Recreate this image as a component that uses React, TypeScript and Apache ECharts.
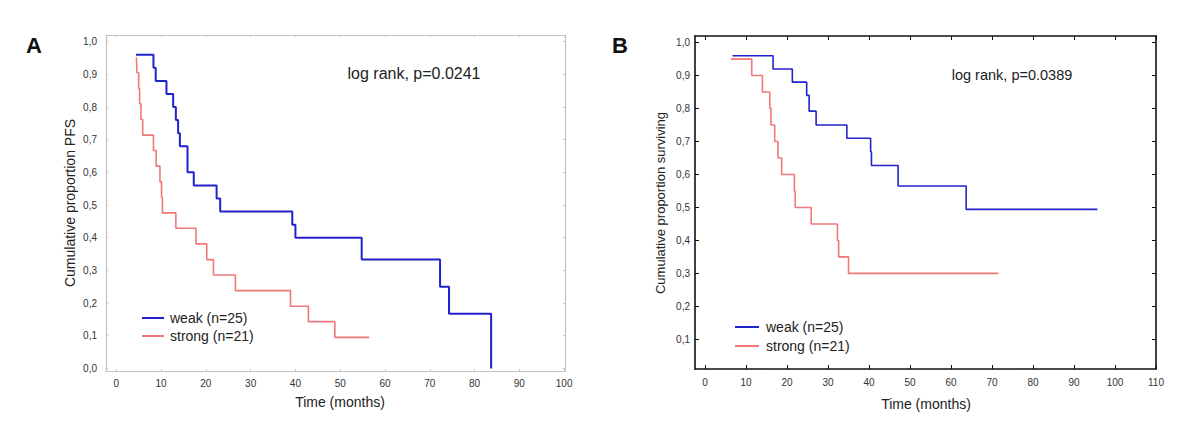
import React, { useEffect, useRef } from "react";
import * as echarts from "echarts";

// Panel A: progression-free survival
const weakA_t = [4.4, 8.3, 8.8, 11.2, 12.7, 13.3, 13.8, 14.2, 15.9, 17.3, 22.4, 23.2, 39.3, 40.0, 54.8, 72.3, 74.3, 83.7];
const weakA_s = [0.96, 0.92, 0.88, 0.84, 0.80, 0.76, 0.72, 0.68, 0.60, 0.56, 0.52, 0.48, 0.44, 0.40, 0.333, 0.25, 0.167, 0.0];
const strongA_t = [4.5, 4.6, 5.0, 5.2, 5.5, 5.9, 8.3, 8.9, 9.75, 10.1, 10.3, 13.3, 17.8, 20.2, 21.7, 26.6, 38.9, 42.9, 48.8, 56.5];
const strongA_s = [0.952, 0.905, 0.857, 0.81, 0.762, 0.714, 0.667, 0.619, 0.571, 0.524, 0.476, 0.429, 0.381, 0.333, 0.286, 0.238, 0.19, 0.143, 0.095, 0.095];

// Panel B: overall survival
const weakB_t = [6.7, 16.6, 21.3, 24.8, 25.4, 27.1, 34.6, 40.4, 40.6, 47.1, 63.7, 95.7];
const weakB_s = [0.96, 0.92, 0.88, 0.84, 0.792, 0.75, 0.71, 0.669, 0.627, 0.565, 0.494, 0.494];
const strongB_t = [6.3, 11.4, 14.0, 15.8, 16.1, 17.0, 17.8, 18.7, 21.8, 22.0, 25.9, 32.3, 32.6, 35.0, 71.6];
const strongB_s = [0.95, 0.9, 0.85, 0.8, 0.75, 0.7, 0.65, 0.6, 0.55, 0.5, 0.45, 0.4, 0.35, 0.3, 0.3];

const xTicksA = [0, 10, 20, 30, 40, 50, 60, 70, 80, 90, 100];
const xTicksB = [0, 10, 20, 30, 40, 50, 60, 70, 80, 90, 100, 110];
const yTicksA = [0, 1, 2, 3, 4, 5, 6, 7, 8, 9, 10].map((i) => i / 10);
const yTicksB = [1, 2, 3, 4, 5, 6, 7, 8, 9, 10].map((i) => i / 10);

const weakName = "weak (n=25)";
const strongName = "strong (n=21)";
const pA = "log rank, p=0.0241";
const pB = "log rank, p=0.0389";

const BLUE = "#2222cc";
const RED = "#f07878";
const FONT = "Liberation Sans, Arial, sans-serif";

const zip = (t: number[], s: number[]) => t.map((x, i) => [x, s[i]]);
const fmtY = (v: number) => v.toFixed(1).replace(".", ",");

export default function App() {
  const ref = useRef<HTMLDivElement>(null);
  useEffect(() => {
    if (!ref.current) return;
    const chart = echarts.init(ref.current, null, { renderer: "svg" });
    const frameA = "#c4c4c4";
    const frameB = "#111";
    const labelStyle = { color: "#333", fontSize: 10, fontFamily: FONT };

    const xAxisCommon = (gi: number, min: number, max: number, ticks: number[], color: string, pos: string, showLabel: boolean, margin: number) => ({
      type: "value",
      gridIndex: gi,
      min,
      max,
      position: pos,
      splitLine: { show: false },
      axisLine: { show: true, onZero: false, lineStyle: { color, width: gi === 0 ? 1.2 : 1.6 } },
      axisTick: { show: true, inside: true, length: gi === 0 ? 2 : 4, customValues: ticks, lineStyle: { color } },
      axisLabel: { show: showLabel, customValues: ticks, margin, ...labelStyle },
    });
    const yAxisCommon = (gi: number, min: number, max: number, ticks: number[], color: string, pos: string, showLabel: boolean, margin: number) => ({
      type: "value",
      gridIndex: gi,
      min,
      max,
      position: pos,
      splitLine: { show: false },
      axisLine: { show: true, onZero: false, lineStyle: { color, width: gi === 0 ? 1.2 : 1.6 } },
      axisTick: { show: true, inside: true, length: gi === 0 ? 2 : 4, customValues: ticks, lineStyle: { color } },
      axisLabel: { show: showLabel, customValues: ticks, margin, formatter: fmtY, ...labelStyle },
    });

    const line = (name: string, xi: number, yi: number, data: number[][], color: string, width: number) => ({
      type: "line",
      name,
      xAxisIndex: xi,
      yAxisIndex: yi,
      data,
      step: "end",
      symbol: "none",
      lineStyle: { color, width },
      itemStyle: { color },
      z: 5,
    });

    chart.setOption({
      animation: false,
      textStyle: { fontFamily: FONT },
      grid: [
        { left: 106, top: 35, width: 459, height: 336 },
        { left: 695, top: 36, width: 461, height: 333 },
      ],
      xAxis: [
        xAxisCommon(0, -2.3, 100.2, xTicksA, frameA, "bottom", true, 7),
        xAxisCommon(0, -2.3, 100.2, xTicksA, frameA, "top", false, 7),
        xAxisCommon(1, -2.44, 110, xTicksB, frameB, "bottom", true, 8),
        xAxisCommon(1, -2.44, 110, xTicksB, frameB, "top", false, 8),
      ],
      yAxis: [
        yAxisCommon(0, -0.008, 1.0205, yTicksA, frameA, "left", true, 9),
        yAxisCommon(0, -0.008, 1.0205, yTicksA, frameA, "right", false, 9),
        yAxisCommon(1, 0.01, 1.02, yTicksB, frameB, "left", true, 5),
        yAxisCommon(1, 0.01, 1.02, yTicksB, frameB, "right", false, 5),
      ],
      legend: [
        {
          left: 137,
          top: 306,
          orient: "vertical",
          data: [weakName, strongName],
          icon: "rect",
          itemWidth: 22,
          itemHeight: 2,
          itemGap: 4,
          selectedMode: false,
          textStyle: { fontSize: 14, color: "#222", fontFamily: FONT, padding: [0, 0, 0, 1] },
        },
        {
          left: 730,
          top: 315,
          orient: "vertical",
          data: [weakName, strongName],
          icon: "rect",
          itemWidth: 24,
          itemHeight: 2,
          itemGap: 5,
          selectedMode: false,
          textStyle: { fontSize: 14, color: "#222", fontFamily: FONT, padding: [0, 0, 0, 2] },
        },
      ],
      series: [
        line(weakName, 0, 0, zip(weakA_t, weakA_s), BLUE, 2),
        line(strongName, 0, 0, zip(strongA_t, strongA_s), RED, 1.6),
        line(weakName, 2, 2, zip(weakB_t, weakB_s), BLUE, 1.6),
        line(strongName, 2, 2, zip(strongB_t, strongB_s), RED, 1.6),
      ],
      graphic: [
        { type: "text", left: 26, top: 34, style: { text: "A", font: `bold 22px ${FONT}`, fill: "#111" } },
        { type: "text", left: 612, top: 34, style: { text: "B", font: `bold 22px ${FONT}`, fill: "#111" } },
        { type: "text", x: 414, y: 73, style: { text: pA, font: `16px ${FONT}`, fill: "#222", align: "center", verticalAlign: "middle" } },
        { type: "text", x: 1012, y: 75, style: { text: pB, font: `14.5px ${FONT}`, fill: "#222", align: "center", verticalAlign: "middle" } },
        { type: "text", x: 340, y: 402, style: { text: "Time (months)", font: `14px ${FONT}`, fill: "#222", align: "center", verticalAlign: "middle" } },
        { type: "text", x: 926, y: 404, style: { text: "Time (months)", font: `14px ${FONT}`, fill: "#222", align: "center", verticalAlign: "middle" } },
        { type: "text", x: 70, y: 203, rotation: Math.PI / 2, style: { text: "Cumulative proportion PFS", font: `14px ${FONT}`, fill: "#222", align: "center", verticalAlign: "middle" } },
        { type: "text", x: 660, y: 203, rotation: Math.PI / 2, style: { text: "Cumulative proportion surviving", font: `13px ${FONT}`, fill: "#222", align: "center", verticalAlign: "middle" } },
      ],
    });
    return () => chart.dispose();
  }, []);
  return <div ref={ref} style={{ width: 1200, height: 435, position: "absolute", left: 0, top: 0, background: "#fff" }} />;
}
